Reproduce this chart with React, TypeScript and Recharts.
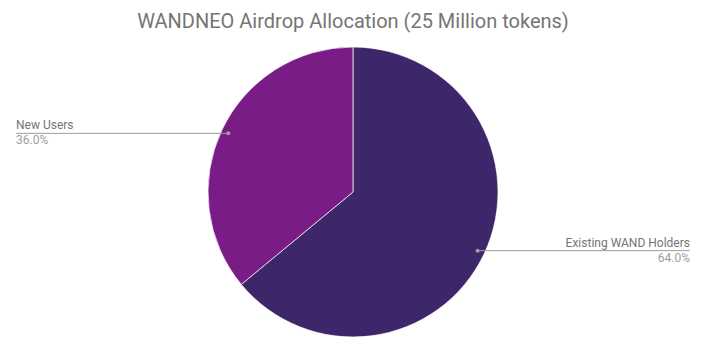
import { PieChart, Pie, Cell } from "recharts";

const names = ["Existing WAND Holders", "New Users"];
const shares = [64, 36];
const sliceColors = ["#3d2669", "#791c86"];

const data = names.map((name, i) => ({ name, value: shares[i] }));

const W = 706;
const H = 353;
const RADIAN = Math.PI / 180;

function renderLabel(props: any) {
  const { cx, cy, midAngle, outerRadius, percent, name } = props;
  const r = outerRadius * 0.95;
  const x = cx + r * Math.cos(-midAngle * RADIAN);
  const y = cy + r * Math.sin(-midAngle * RADIAN);
  const right = x > cx;
  const endX = right ? W - 16 : 16;
  const anchor = right ? "end" : "start";
  return (
    <g>
      <line x1={x} y1={y} x2={endX} y2={y} stroke="#9e9e9e" strokeWidth={1} />
      <circle cx={x} cy={y} r={2} fill="#9e9e9e" />
      <text x={endX} y={y - 4} textAnchor={anchor} fill="#757575" fontSize={12} fontFamily="Roboto">
        {name}
      </text>
      <text x={endX} y={y + 11} textAnchor={anchor} fill="#9e9e9e" fontSize={12} fontFamily="Roboto">
        {(percent * 100).toFixed(1)}%
      </text>
    </g>
  );
}

export default function App() {
  return (
    <div style={{ position: "relative", width: W, height: H, background: "#fff", fontFamily: "Roboto" }}>
      <style>{`body{margin:0}`}</style>
      <div
        style={{
          position: "absolute",
          top: 9,
          left: 0,
          width: W,
          textAlign: "center",
          fontSize: 20,
          color: "#757575",
          fontFamily: "Roboto",
        }}
      >
        WANDNEO Airdrop Allocation (25 Million tokens)
      </div>
      <PieChart width={W} height={H} margin={{ top: 0, right: 0, bottom: 0, left: 0 }}>
        <Pie
          data={data}
          dataKey="value"
          nameKey="name"
          cx={353}
          cy={192}
          outerRadius={145}
          startAngle={90}
          endAngle={-270}
          stroke="#ffffff"
          strokeWidth={0.7}
          label={renderLabel}
          labelLine={false}
          isAnimationActive={false}
        >
          {data.map((d, i) => (
            <Cell key={d.name} fill={sliceColors[i]} />
          ))}
        </Pie>
      </PieChart>
    </div>
  );
}
